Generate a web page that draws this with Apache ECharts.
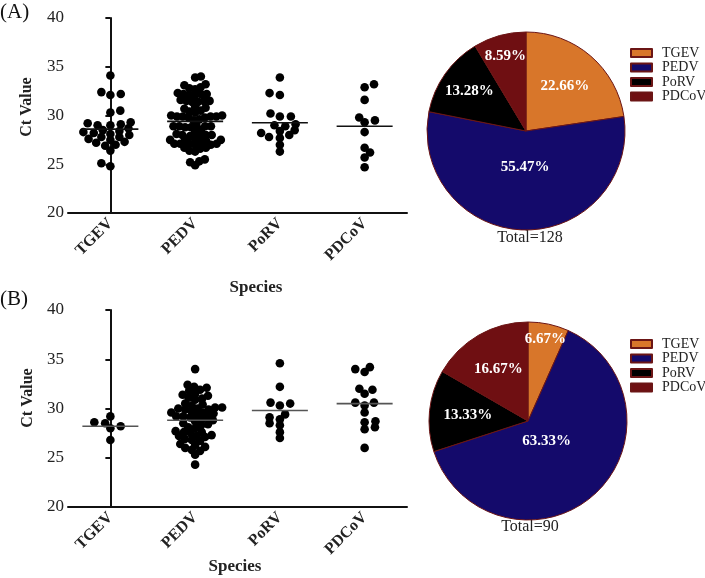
<!DOCTYPE html>
<html><head><meta charset="utf-8">
<script src="https://cdn.jsdelivr.net/npm/echarts@6/dist/echarts.min.js"></script>
<style>html,body{margin:0;padding:0;background:#fff}#c{width:705px;height:578px}</style>
</head><body><div id="c"></div>
<script>
const categories = ['TGEV', 'PEDV', 'PoRV', 'PDCoV'];
const yTicks = [20, 25, 30, 35, 40];

// Panel A Ct values
const ctA_TGEV = [34.1, 32.4, 32.1, 32.2, 30.5, 30.3, 29.2, 29.0, 29.3, 29.0, 29.1, 28.7, 28.5, 28.1, 27.8, 28.2, 28.4, 28.0, 28.3, 27.2, 27.6, 27.5, 27.8, 27.3, 26.9, 27.0, 26.4, 24.8, 25.1];
const ctA_PEDV = [34.0, 33.9, 33.2, 33.1, 32.8, 32.7, 32.9, 32.2, 32.1, 32.2, 32.3, 32.1, 32.2, 31.5, 31.4, 31.5, 31.6, 31.4, 31.5, 30.8, 30.7, 30.9, 30.4, 30.3, 30.5, 29.9, 29.8, 29.9, 30.0, 29.9, 29.8, 29.9, 30.0, 29.6, 29.5, 28.9, 28.8, 28.9, 29.0, 28.9, 28.8, 28.9, 28.5, 28.4, 28.0, 27.9, 28.0, 28.1, 28.0, 27.9, 27.5, 27.4, 27.5, 27.6, 27.5, 27.1, 27.0, 27.1, 27.2, 27.1, 27.0, 27.1, 26.7, 26.6, 26.7, 26.4, 26.3, 25.5, 25.3, 25.2, 24.9];
const ctA_PoRV = [33.9, 32.1, 32.3, 30.2, 29.9, 29.9, 28.5, 29.1, 28.9, 29.0, 28.2, 27.8, 27.7, 28.0, 28.4, 27.0, 26.3];
const ctA_PDCoV = [32.9, 33.2, 31.6, 29.8, 29.3, 29.5, 28.3, 26.7, 26.2, 25.7, 24.7];
const meanA = [28.6, 29.4, 29.25, 28.9];

// Panel B Ct values
const ctB_TGEV = [28.6, 29.2, 28.2, 28.0, 28.5, 26.8];
const ctB_PEDV = [34.0, 32.4, 32.2, 32.1, 31.9, 31.8, 31.4, 31.3, 31.5, 31.0, 31.1, 30.9, 30.4, 30.5, 30.3, 30.0, 30.1, 29.9, 30.0, 30.1, 29.9, 29.6, 29.5, 29.7, 29.6, 29.2, 29.1, 29.3, 29.2, 29.2, 28.8, 28.7, 28.9, 28.4, 28.3, 28.5, 28.0, 28.1, 27.6, 27.7, 27.5, 27.6, 27.2, 27.1, 27.3, 27.2, 26.8, 26.7, 26.9, 26.4, 26.3, 26.0, 26.1, 25.7, 25.8, 25.3, 24.3];
const ctB_PoRV = [34.6, 32.2, 30.5, 30.3, 30.6, 29.1, 29.4, 28.9, 28.5, 28.3, 27.6, 27.0];
const ctB_PDCoV = [34.0, 33.7, 34.2, 32.0, 31.5, 31.9, 30.6, 30.3, 30.6, 29.6, 28.7, 28.6, 28.1, 27.9, 26.0];
const meanB = [28.2, 28.8, 29.8, 30.5];

// Pie counts
const countsA = [29, 71, 17, 11];
const countsB = [6, 57, 12, 15];
const totalA = 'Total=128';
const totalB = 'Total=90';

// ---- styling / layout ----
const pieColors = ['#D8762A', '#140A6B', '#000000', '#6F0F12'];
const SERIF = 'Liberation Serif, Times New Roman, serif';
const gridA = {left: 68, top: 18, width: 339, height: 195};
const gridB = {left: 68, top: 310, width: 339, height: 197};
const DOT = 8.6, DX = 11, DY = 5.6, MAXW = 27;
const PIE_R = 99;
const pieA = {center: [526, 131], labelFrac: [0.6, 0.36, 0.7, 0.78]};
const pieB = {center: [528, 421], labelFrac: [0.85, 0.28, 0.61, 0.6]};

function swarm(vals, pyu) {
  const idx = vals.map((v, i) => i).sort((a, b) => vals[a] - vals[b]);
  const placed = []; const off = new Array(vals.length);
  let k = 0;
  for (const i of idx) {
    const y = vals[i] * pyu;
    const cands = [0];
    for (const q of placed) {
      const dy = y - q.y;
      if (Math.abs(dy) < DY) { const dx = DX * Math.sqrt(1 - (dy * dy) / (DY * DY)); cands.push(q.x + dx, q.x - dx); }
    }
    const sgn = (k++ % 2) ? 1 : -1;
    cands.sort((a, b) => (Math.abs(a) - Math.abs(b)) || (sgn * (a - b)));
    let best = 0;
    for (const c of cands) {
      if (placed.every(q => ((c - q.x) / DX) ** 2 + ((y - q.y) / DY) ** 2 >= 1 - 1e-6)) { best = c; break; }
    }
    placed.push({x: best, y}); off[i] = best;
  }
  const m = Math.max(...off.map(Math.abs));
  const s = m > MAXW ? MAXW / m : 1;
  return off.map(o => o * s);
}

function dotSeries(groups, grid, xi, yi) {
  const pyu = grid.height / 20, pxc = grid.width / 4;
  return groups.map((vals, ci) => {
    const off = swarm(vals, pyu);
    return {
      type: 'scatter', xAxisIndex: xi, yAxisIndex: yi, symbol: 'circle', symbolSize: DOT,
      itemStyle: {color: '#000', opacity: 1}, silent: true, z: 3,
      data: vals.map((v, j) => [ci + off[j] / pxc, v])
    };
  });
}
function meanSeries(means, xi, yi, color) {
  return {
    type: 'scatter', xAxisIndex: xi, yAxisIndex: yi, symbol: 'rect', symbolSize: [56, 1.6],
    itemStyle: {color, opacity: 1}, z: 5, silent: true,
    data: means.map((m, i) => [i, m])
  };
}

function catAxis(g) {
  return {
    gridIndex: g, type: 'category', data: categories,
    axisLine: {lineStyle: {color: '#111', width: 2}},
    axisTick: {alignWithLabel: true, length: 5, lineStyle: {color: '#111', width: 2}},
    axisLabel: {rotate: 45, margin: 8, fontFamily: SERIF, fontWeight: 'bold', fontSize: 16, color: '#222'}
  };
}
function valX(g) { return {gridIndex: g, type: 'value', min: -0.5, max: 3.5, show: false}; }
function yAx(g) {
  return {
    gridIndex: g, type: 'value', min: yTicks[0], max: yTicks[yTicks.length - 1], interval: 5,
    splitLine: {show: false},
    axisLine: {show: true, lineStyle: {color: '#111', width: 2}},
    axisTick: {show: true, length: 5, lineStyle: {color: '#111', width: 2}},
    axisLabel: {fontFamily: SERIF, fontSize: 17, color: '#222', margin: 4}
  };
}

function labelPos(counts, pie, i) {
  const tot = counts.reduce((a, b) => a + b, 0);
  let c0 = 0; for (let j = 0; j < i; j++) c0 += counts[j];
  const th = (c0 + counts[i] / 2) / tot * 2 * Math.PI;
  const f = pie.labelFrac[i] * PIE_R;
  return [pie.center[0] + f * Math.sin(th), pie.center[1] - f * Math.cos(th)];
}

function pieSeries(counts, pie) {
  return {
    type: 'pie', center: pie.center, radius: PIE_R, startAngle: 90, clockwise: true,
    silent: true, avoidLabelOverlap: false,
    itemStyle: {borderColor: '#6b1515', borderWidth: 1},
    label: {show: true, position: 'inside', formatter: '{d}%', color: '#fff', fontFamily: SERIF, fontWeight: 'bold', fontSize: 15},
    labelLine: {show: false},
    labelLayout: function (p) {
      const xy = labelPos(counts, pie, p.dataIndex);
      return {x: xy[0], y: xy[1], align: 'center', verticalAlign: 'middle', hideOverlap: false};
    },
    data: categories.map((c, i) => ({name: c, value: counts[i], itemStyle: {color: pieColors[i]}}))
  };
}
function legend(top) {
  return {
    orient: 'vertical', left: 625, top, icon: 'rect', itemWidth: 21, itemHeight: 8, itemGap: 0.5,
    textStyle: {fontFamily: SERIF, fontSize: 14, lineHeight: 12, color: '#222', padding: [0, 0, 0, 5]},
    data: categories, selectedMode: false
  };
}
function vText(text, x, y) {
  return {type: 'text', x, y, rotation: Math.PI / 2,
    style: {text, font: 'bold 16px ' + SERIF, fill: '#222', textAlign: 'center', textVerticalAlign: 'middle'}};
}

const chart = echarts.init(document.getElementById('c'));
chart.setOption({
  animation: false,
  grid: [gridA, gridB],
  xAxis: [catAxis(0), valX(0), catAxis(1), valX(1)],
  yAxis: [yAx(0), yAx(1)],
  legend: [legend(41), legend(332)],
  series: [
    ...dotSeries([ctA_TGEV, ctA_PEDV, ctA_PoRV, ctA_PDCoV], gridA, 1, 0),
    meanSeries(meanA, 1, 0, '#111'),
    ...dotSeries([ctB_TGEV, ctB_PEDV, ctB_PoRV, ctB_PDCoV], gridB, 3, 1),
    meanSeries(meanB, 3, 1, '#555'),
    pieSeries(countsA, pieA),
    pieSeries(countsB, pieB)
  ],
  graphic: [
    {type: 'text', left: 0, top: 2, style: {text: '(A)', font: '21px ' + SERIF, fill: '#111'}},
    {type: 'text', left: 0, top: 289, style: {text: '(B)', font: '21px ' + SERIF, fill: '#111'}},
    vText('Ct Value', 27, 107),
    vText('Ct Value', 28, 398),
    {type: 'text', x: 256, y: 288, style: {text: 'Species', font: 'bold 17px ' + SERIF, fill: '#222', textAlign: 'center', textVerticalAlign: 'middle'}},
    {type: 'text', x: 235, y: 567, style: {text: 'Species', font: 'bold 17px ' + SERIF, fill: '#222', textAlign: 'center', textVerticalAlign: 'middle'}},
    {type: 'text', x: 530, y: 238, style: {text: totalA, font: '16px ' + SERIF, fill: '#222', textAlign: 'center', textVerticalAlign: 'middle'}},
    {type: 'text', x: 530, y: 527, style: {text: totalB, font: '16px ' + SERIF, fill: '#222', textAlign: 'center', textVerticalAlign: 'middle'}}
  ]
});
</script></body></html>
